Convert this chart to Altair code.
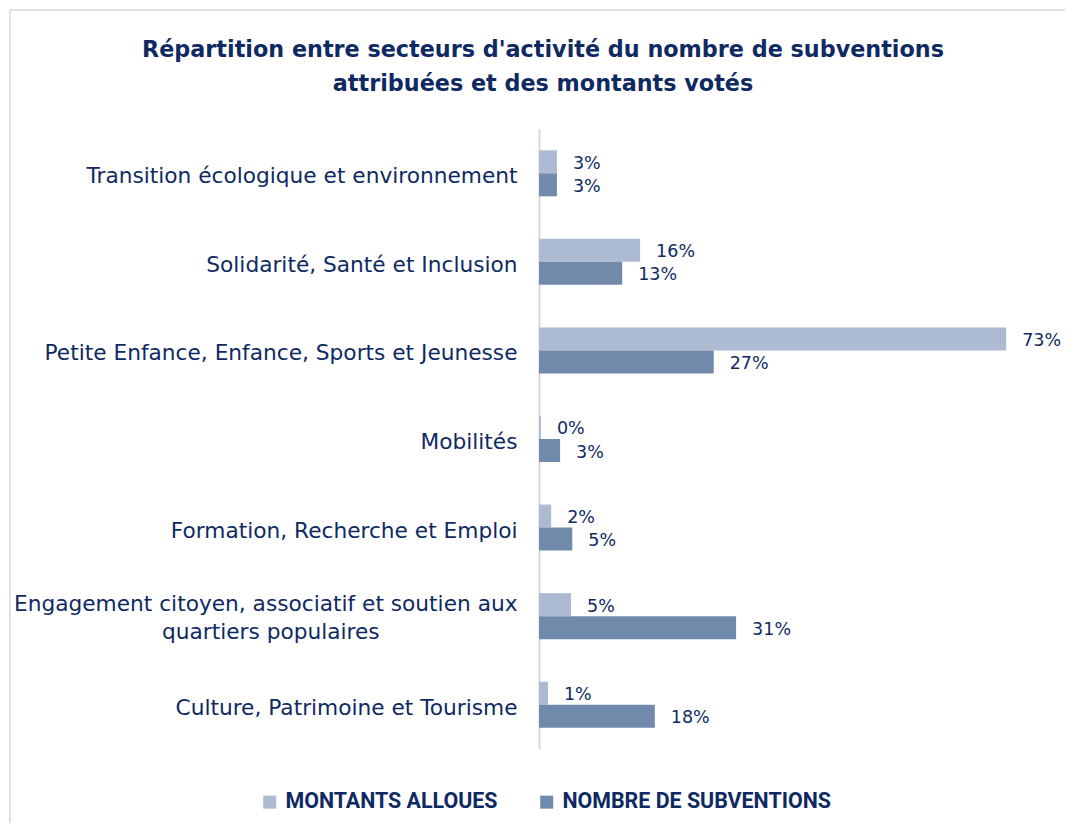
import altair as alt
import pandas as pd

categories = [
    "Transition écologique et environnement",
    "Solidarité, Santé et Inclusion",
    "Petite Enfance, Enfance, Sports et Jeunesse",
    "Mobilités",
    "Formation, Recherche et Emploi",
    "Engagement citoyen, associatif et soutien aux|quartiers populaires",
    "Culture, Patrimoine et Tourisme",
]
series = ["MONTANTS ALLOUES", "NOMBRE DE SUBVENTIONS"]
montants = [2.8, 15.8, 73.0, 0.3, 1.9, 5.0, 1.4]
nombre = [2.8, 13.0, 27.3, 3.3, 5.2, 30.8, 18.1]
colors = ["#acbad2", "#718aab"]
navy = "#0f2a62"

rows = []
for c, m, n in zip(categories, montants, nombre):
    rows.append({"cat": c, "serie": series[0], "value": m})
    rows.append({"cat": c, "serie": series[1], "value": n})
df = pd.DataFrame(rows)

font = "DejaVu Sans"
# trailing non-breaking spaces (closed by a zero-width space) centre the 2nd line under the 1st
pad = "\u00a0" * 20 + "\u200b"
label_expr = (
    "indexof(datum.label, '|') >= 0 ? "
    "[split(datum.label, '|')[0], split(datum.label, '|')[1] + '" + pad + "'] : datum.label"
)

y_enc = alt.Y(
    "cat:N",
    sort=categories,
    scale=alt.Scale(paddingInner=0.48, paddingOuter=0.24),
    axis=alt.Axis(
        title=None,
        ticks=False,
        domainColor="#d9d9d9",
        domainWidth=2,
        labelExpr=label_expr,
        labelFont=font,
        labelFontSize=21.7,
        labelColor=navy,
        labelPadding=22,
        labelLimit=0,
        labelLineHeight=28,
        labelBaseline="middle",
        labelOffset={
            "condition": {"test": "indexof(datum.value, '|') >= 0", "value": -12},
            "value": 3,
        },
    ),
)
x_enc = alt.X("value:Q", scale=alt.Scale(domain=[0, 80]), axis=None)
yoff = alt.YOffset("serie:N", sort=series)

base = alt.Chart(df).encode(y=y_enc, yOffset=yoff)

bars = base.mark_bar(size=23).encode(
    x=x_enc,
    color=alt.Color(
        "serie:N",
        sort=series,
        scale=alt.Scale(domain=series, range=colors),
        legend=alt.Legend(
            title=None,
            orient="none",
            legendX=-280,
            legendY=662,
            direction="horizontal",
            symbolType="square",
            symbolSize=169,
            symbolOpacity=1,
            symbolStrokeWidth=0,
            labelFont="Roboto",
            labelFontSize=21.4,
            labelFontWeight="bold",
            labelColor=navy,
            labelLimit=0,
            columnPadding=38,
            labelOffset=5,
        ),
    ),
)

labels = base.mark_text(
    align="left", baseline="middle", dx=16, dy=2, font=font, fontSize=17.5, color=navy
).transform_calculate(
    lab="format(datum.value/100, '.0%')"
).encode(x=x_enc, text="lab:N")

frame = alt.Chart(alt.Data(values=[{"a": 1}])).mark_rect(
    fillOpacity=0, stroke="#d9d9d9", strokeWidth=1.5
).encode(
    x=alt.value(-529), x2=alt.value(600), y=alt.value(-119), y2=alt.value(800)
)

chart = alt.layer(frame, bars, labels).properties(
    width=512,
    height=620,
    background="white",
    autosize=alt.AutoSizeParams(type="none"),
    padding={"left": 531, "top": 121, "right": 14, "bottom": 74},
    title=alt.TitleParams(
        text=[
            "Répartition entre secteurs d'activité du nombre de subventions",
            "attribuées et des montants votés",
        ],
        font="DejaVu Sans",
        fontSize=22.3,
        fontWeight="bold",
        color=navy,
        anchor="middle",
        dx=-252,
        offset=-86,
        lineHeight=34,
    ),
).configure_view(strokeWidth=0, stroke="transparent")

chart.save("out.html", embed_options={"renderer": "svg", "actions": False})
